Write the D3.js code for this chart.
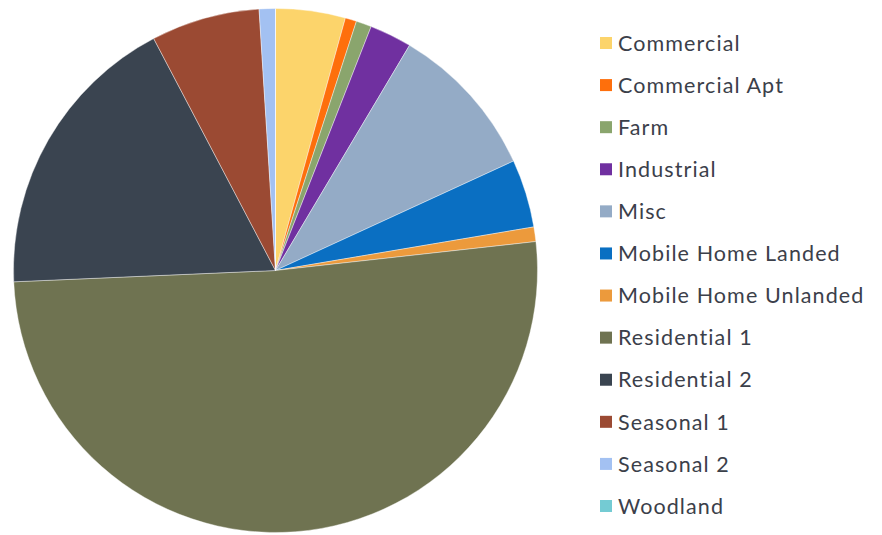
<!DOCTYPE html>
<html>
<head>
<meta charset="utf-8">
<script src="https://cdn.jsdelivr.net/npm/d3@7"></script>
<style>
  body { margin: 0; background: #fff; }
  svg { display: block; }
  .legend text {
    font-family: Lato, "Open Sans", sans-serif;
    font-size: 21.5px;
    letter-spacing: 1.1px;
    font-variant-ligatures: none;
    fill: #3b404a;
  }
</style>
</head>
<body>
<div id="chart"></div>
<script>
// property classes (share of parcels, in %)
const categories = ["Commercial", "Commercial Apt", "Farm", "Industrial", "Misc",
  "Mobile Home Landed", "Mobile Home Unlanded", "Residential 1", "Residential 2",
  "Seasonal 1", "Seasonal 2", "Woodland"];
const values = [4.3, 0.7, 0.95, 2.6, 9.6, 4.2, 0.9, 51.1, 18.0, 6.7, 1.0, 0];
const colors = ["#fcd46b", "#fe6f0c", "#8aa56d", "#7030a0", "#94abc6", "#0a6fc2",
  "#ec9a3c", "#6f7351", "#3a4450", "#9b4a33", "#a3c1f2", "#74cbd3"];

const width = 882, height = 535;
const cx = 275.5, cy = 270.5, radius = 262;

const svg = d3.select("#chart")
  .append("svg")
  .attr("width", width)
  .attr("height", height);

const data = categories.map((c, i) => ({ name: c, value: values[i] }));

const color = d3.scaleOrdinal().domain(categories).range(colors);

// excel style: start at 12 o'clock, go clockwise, keep order
const pie = d3.pie().value(d => d.value).sort(null);
const arc = d3.arc().innerRadius(0).outerRadius(radius);

svg.append("g")
  .attr("transform", `translate(${cx},${cy})`)
  .selectAll("path")
  .data(pie(data))
  .enter()
  .append("path")
  .attr("d", arc)
  .attr("fill", d => color(d.data.name))
  .attr("stroke", "#fff")
  .attr("stroke-width", 0.4);

// legend on the right
const legendY = d3.scalePoint()
  .domain(categories)
  .range([43, 506]);

const legend = svg.append("g").attr("class", "legend");

const rows = legend.selectAll("g")
  .data(categories)
  .enter()
  .append("g")
  .attr("transform", d => `translate(600,${legendY(d)})`);

rows.append("rect")
  .attr("x", 0)
  .attr("y", -6)
  .attr("width", 12)
  .attr("height", 12)
  .attr("fill", d => color(d));

rows.append("text")
  .attr("x", 18)
  .attr("dy", "0.36em")
  .text(d => d);
</script>
</body>
</html>
